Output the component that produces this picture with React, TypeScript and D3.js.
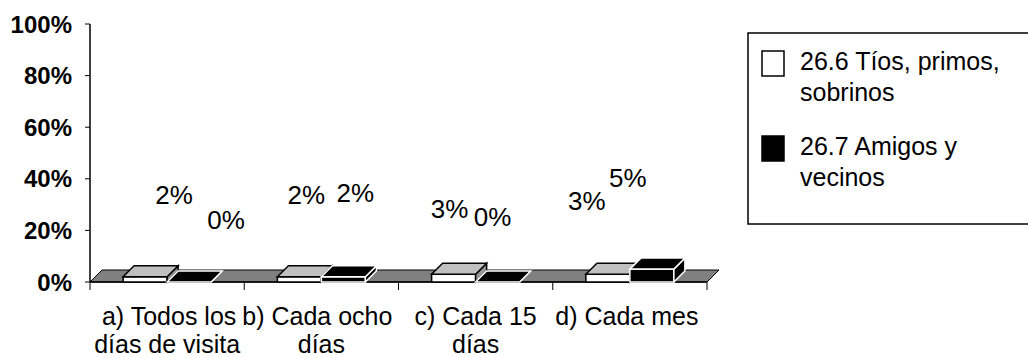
import { useEffect, useRef } from 'react';
import * as d3 from 'd3';

const categories = ['a', 'b', 'c', 'd'];
const labelLine1 = ['a) Todos los', 'b) Cada ocho', 'c) Cada 15', 'd) Cada mes'];
const labelLine2 = ['días de visita', 'días', 'días', ''];
const seriesNames = ['26.6 Tíos, primos,|sobrinos', '26.7 Amigos y|vecinos'];
const tios = [0.02, 0.02, 0.03, 0.03];
const amigos = [0.0, 0.02, 0.0, 0.05];
const yTicks = [0, 0.2, 0.4, 0.6, 0.8, 1];

// Excel 3D label placement is odd, nudges relative to the bar's front top centre
const nudgeX = [
  [29, 7, -4, -21],
  [37, 12, -5, -24],
];
const nudgeY = [
  [-82, -82, -66, -74],
  [-62, -84, -65, -91],
];
const line1Shift = [2, -4, 0, -3];

const FONT = '"Liberation Sans", Arial, sans-serif';

export default function App() {
  const svgRef = useRef<SVGSVGElement>(null);

  useEffect(() => {
    if (!svgRef.current) return;
    const svg = d3.select(svgRef.current);
    svg.selectAll('*').remove();

    const left = 90;
    const right = 707;
    const top = 24;
    const bottom = 282;
    const depth = 12;
    const barW = 44;
    const barDepth = 11;

    const x = d3.scaleBand().domain(categories).range([left, right]);
    const y = d3.scaleLinear().domain([0, 1]).range([bottom, top]);
    const series = [tios, amigos];

    const g = svg.append('g');

    // floor
    g.append('path')
      .attr(
        'd',
        `M${left},${bottom}L${right},${bottom}L${right + depth},${bottom - depth}L${left + depth},${bottom - depth}Z`
      )
      .attr('fill', '#808080')
      .attr('stroke', '#000')
      .attr('stroke-width', 1);

    // y axis
    g.append('line')
      .attr('x1', left)
      .attr('x2', left)
      .attr('y1', y(1))
      .attr('y2', bottom)
      .attr('stroke', '#000')
      .attr('stroke-width', 1.5);

    g.selectAll('.ytick')
      .data(yTicks)
      .enter()
      .append('line')
      .attr('x1', left - 5)
      .attr('x2', left)
      .attr('y1', (d) => y(d))
      .attr('y2', (d) => y(d))
      .attr('stroke', '#000');

    g.selectAll('.ylab')
      .data(yTicks)
      .enter()
      .append('text')
      .attr('x', 72)
      .attr('y', (d) => y(d))
      .attr('dy', '0.36em')
      .attr('text-anchor', 'end')
      .style('font-family', FONT)
      .style('font-weight', 'bold')
      .style('font-size', '24px')
      .text((d) => d3.format('.0%')(d));

    // x axis line and ticks
    g.append('line')
      .attr('x1', left)
      .attr('x2', right)
      .attr('y1', bottom)
      .attr('y2', bottom)
      .attr('stroke', '#000')
      .attr('stroke-width', 1.5);

    const bounds = categories.map((c) => x(c) || 0).concat([right]);
    g.selectAll('.xtick')
      .data(bounds)
      .enter()
      .append('line')
      .attr('x1', (d) => d)
      .attr('x2', (d) => d)
      .attr('y1', bottom)
      .attr('y2', bottom + 8)
      .attr('stroke', '#000');

    // bars
    categories.forEach((c, ci) => {
      const cx = (x(c) || 0) + x.bandwidth() / 2;
      series.forEach((vals, si) => {
        const x0 = cx - barW + si * barW;
        const x1 = x0 + barW;
        const yt = y(vals[ci]);
        const dark = si === 1;
        const edge = dark ? '#fff' : '#000';
        // front
        g.append('rect')
          .attr('x', x0)
          .attr('y', yt)
          .attr('width', barW)
          .attr('height', bottom - yt)
          .attr('fill', dark ? '#000' : '#fff')
          .attr('stroke', edge)
          .attr('stroke-width', 1.5);
        // side
        g.append('path')
          .attr(
            'd',
            `M${x1},${yt}L${x1 + barDepth},${yt - barDepth}L${x1 + barDepth},${bottom - barDepth}L${x1},${bottom}Z`
          )
          .attr('fill', dark ? '#000' : '#969696')
          .attr('stroke', edge)
          .attr('stroke-width', 1.5);
        // top
        g.append('path')
          .attr(
            'd',
            `M${x0},${yt}L${x1},${yt}L${x1 + barDepth},${yt - barDepth}L${x0 + barDepth},${yt - barDepth}Z`
          )
          .attr('fill', dark ? '#000' : '#c0c0c0')
          .attr('stroke', edge)
          .attr('stroke-width', 1.5);
      });
    });

    // value labels
    categories.forEach((c, ci) => {
      const cx = (x(c) || 0) + x.bandwidth() / 2;
      series.forEach((vals, si) => {
        const bx = cx - barW / 2 + si * barW;
        g.append('text')
          .attr('x', bx + nudgeX[si][ci])
          .attr('y', y(vals[ci]) + nudgeY[si][ci])
          .attr('dy', '0.36em')
          .attr('text-anchor', 'middle')
          .style('font-family', FONT)
          .style('font-size', '26px')
          .text(d3.format('.0%')(vals[ci]));
      });
    });

    // category labels
    categories.forEach((c, ci) => {
      const cx = (x(c) || 0) + x.bandwidth() / 2;
      g.append('text')
        .attr('x', cx + line1Shift[ci])
        .attr('y', 325)
        .attr('text-anchor', 'middle')
        .style('font-family', FONT)
        .style('font-size', '25px')
        .text(labelLine1[ci]);
      g.append('text')
        .attr('x', cx)
        .attr('y', 353)
        .attr('text-anchor', 'middle')
        .style('font-family', FONT)
        .style('font-size', '25px')
        .text(labelLine2[ci]);
    });

    // legend
    const lg = svg.append('g');
    lg.append('rect')
      .attr('x', 748)
      .attr('y', 33)
      .attr('width', 300)
      .attr('height', 191)
      .attr('fill', '#fff')
      .attr('stroke', '#000')
      .attr('stroke-width', 1.5);
    seriesNames.forEach((name, i) => {
      const by = 51 + i * 85;
      lg.append('rect')
        .attr('x', 762)
        .attr('y', by)
        .attr('width', 22)
        .attr('height', 25)
        .attr('fill', i === 0 ? '#fff' : '#000')
        .attr('stroke', '#000')
        .attr('stroke-width', 1.5);
      name.split('|').forEach((ln, li) => {
        lg.append('text')
          .attr('x', 800)
          .attr('y', by + 19 + li * 31)
          .style('font-family', FONT)
          .style('font-size', '25px')
          .text(ln);
      });
    });
  }, []);

  return (
    <svg
      ref={svgRef}
      width={1028}
      height={358}
      style={{ position: 'absolute', left: 0, top: 0, background: '#fff' }}
    />
  );
}
